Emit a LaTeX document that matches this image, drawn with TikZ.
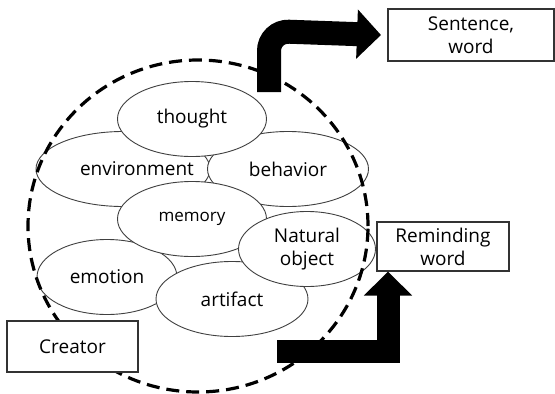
\documentclass[tikz,border=0pt]{standalone}
\usepackage{fontspec}
\setmainfont{Open Sans}
\usetikzlibrary{shapes.geometric, arrows.meta}

\begin{document}
\begin{tikzpicture}[x=1pt, y=-1pt,
    every node/.style={font=\fontsize{19}{23}\selectfont},
    idea/.style={ellipse, draw=black!75, line width=0.9pt, fill=white, inner sep=0pt},
    outbox/.style={rectangle, draw=black!80, line width=1.2pt, fill=white, align=center, inner sep=0pt},
    bigarrow/.style={line width=24pt, black}]
            \useasboundingbox (0,0) rectangle (555,394);
            % the things a creator draws on
            \node [idea, minimum width=174pt, minimum height=75pt,
                   label={[xshift=14pt]center:environment}] (env) at (123,169) {};
            \node [idea, minimum width=161pt, minimum height=75pt] (beh) at (288,169) {behavior};
            \node [idea, minimum width=149pt, minimum height=75pt] (tho) at (192,119) {thought};
            \node [idea, minimum width=140pt, minimum height=75pt] (emo) at (107,277) {emotion};
            \node [idea, minimum width=149pt, minimum height=75pt,
                   font=\fontsize{17}{20}\selectfont] (mem) at (192,219) {memory};
            \node [idea, minimum width=152pt, minimum height=75pt] (art) at (232,299) {artifact};
            \node [idea, minimum width=137pt, minimum height=75pt, align=center] (nat) at (307,249) {Natural\\object};
            % the creator
            \node [ellipse, draw, dashed, line width=3.2pt, dash pattern=on 13pt off 7pt,
                   minimum width=340pt, minimum height=332pt, inner sep=0pt] (mind) at (198,226) {};
            \node [outbox, minimum width=131pt, minimum height=51pt] (crea) at (72.5,346.5) {Creator};
            \node [outbox, minimum width=166pt, minimum height=52pt] (sent) at (471,35) {Sentence,\\word};
            \node [outbox, minimum width=132pt, minimum height=49pt] (remi) at (443,246.5) {Reminding\\word};
            \coordinate (top out) at (269,92);
            \coordinate (low out) at (277,351.5);
            \draw [bigarrow, rounded corners=20pt, -{Triangle[width=48pt, length=24pt]}]
            	(top out) -- (269,31) -- (sent.west -| 381,31);
            \draw [bigarrow, line width=23pt, line join=miter, -{Triangle[width=47pt, length=24pt]}]
            	(low out) -- (388,351.5) -- (remi.south -| 388,279);
\end{tikzpicture}
\end{document}
